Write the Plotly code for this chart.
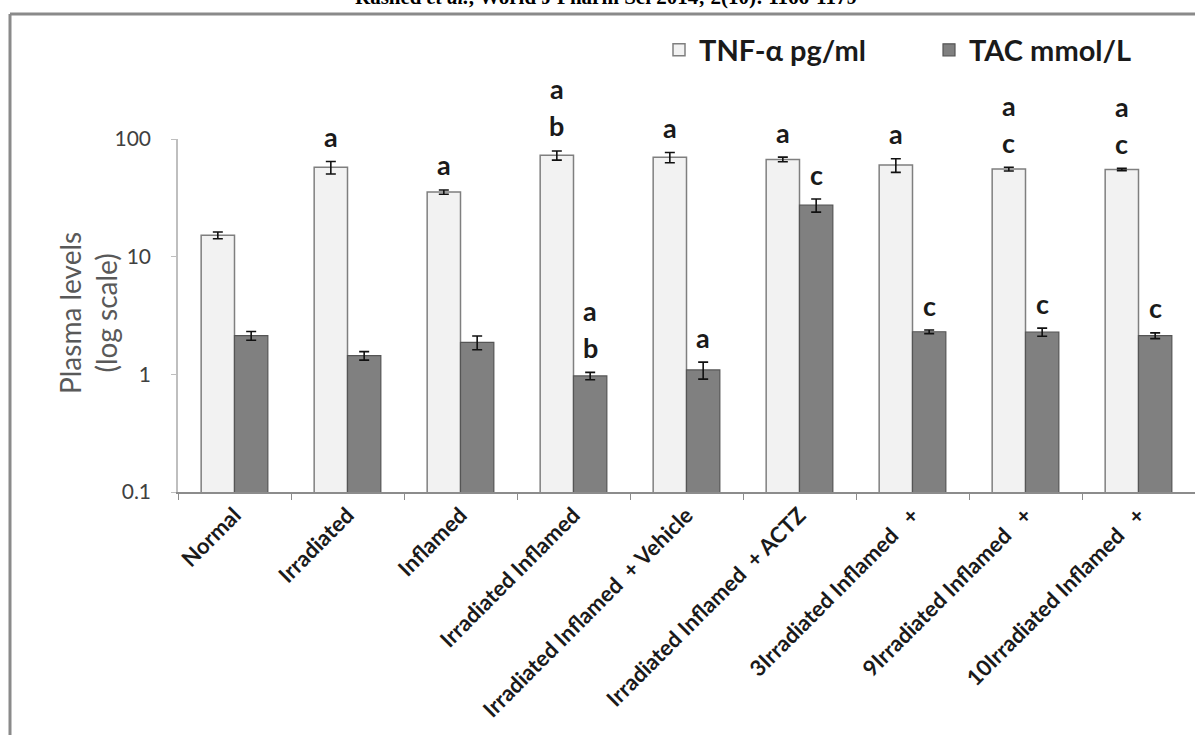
import math
import plotly.graph_objects as go

categories = [
    "Normal", "Irradiated", "Inflamed", "Irradiated Inflamed",
    "Irradiated Inflamed \u00a0+ Vehicle", "Irradiated Inflamed \u00a0+ ACTZ",
    "3Irradiated Inflamed \u00a0 +", "9Irradiated Inflamed \u00a0 +",
    "10Irradiated Inflamed \u00a0 +",
]
tnf = [15.2, 57.4, 35.4, 72.6, 69.8, 67.1, 60.0, 55.5, 55.1]
tnf_err = [1.0, 7.0, 1.5, 6.5, 7.0, 3.0, 8.0, 2.0, 1.2]
tac = [2.13, 1.44, 1.87, 0.97, 1.09, 27.4, 2.30, 2.29, 2.13]
tac_err = [0.18, 0.12, 0.25, 0.07, 0.18, 3.5, 0.08, 0.18, 0.12]
tnf_sig = ["", "a", "a", "ab", "a", "a", "a", "ac", "ac"]
tac_sig = ["", "", "", "ab", "a", "c", "c", "c", "c"]

BARGAP = 0.41
FONT = "Lato"
W, H = 1195, 735
L, T, B = 178, 139, 492
H_PLOT = B - T


def py(p):
    return (B - p) / H_PLOT


def px(p):
    return (p - L) / (W - L)


fig = go.Figure()
fig.add_trace(go.Bar(
    name="TNF-α pg/ml", x=categories, y=tnf, legend="legend",
    error_y=dict(type="data", array=tnf_err, color="#111111", thickness=1.6, width=5),
    marker=dict(color="#f2f2f2", line=dict(color="#7f7f7f", width=1.5)),
))
fig.add_trace(go.Bar(
    name="TAC mmol/L", x=categories, y=tac, legend="legend2",
    error_y=dict(type="data", array=tac_err, color="#111111", thickness=1.6, width=5),
    marker=dict(color="#808080", line=dict(color="#555555", width=1.2)),
))

# significance letters
w = (1 - BARGAP) / 2
annotations = []
for vals, errs, sigs, off in [(tnf, tnf_err, tnf_sig, -w / 2), (tac, tac_err, tac_sig, w / 2)]:
    for i, (v, e, s) in enumerate(zip(vals, errs, sigs)):
        for k, ch in enumerate(reversed(s)):
            annotations.append(dict(
                x=i + off, y=math.log10(v + e), xref="x", yref="y",
                text=ch, showarrow=False, yanchor="middle",
                yshift=25 + 37 * k,
                font=dict(family=FONT, size=27, color="#1a1a1a", weight="bold"),
            ))

# header (cut off at the top like the reference)
annotations.append(dict(
    x=px(606), y=py(11), xref="paper", yref="paper", xanchor="center", yanchor="bottom",
    text="Rashed <i>et al.</i>, World J Pharm Sci 2014; 2(10): 1166-1179",
    showarrow=False, font=dict(family="Liberation Serif", size=21, color="#000000", weight="bold"),
))
# y-axis title
annotations.append(dict(
    x=px(88), y=py(313), xref="paper", yref="paper", xanchor="center", yanchor="middle",
    text="Plasma levels<br>(log scale)", textangle=-90, showarrow=False,
    font=dict(family=FONT, size=28, color="#595959"),
))

legend_font = dict(family=FONT, size=29, color="#1a1a1a", weight="bold")
fig.update_layout(
    width=W, height=H,
    margin=dict(l=L, r=0, t=T, b=H - B, autoexpand=False),
    paper_bgcolor="white", plot_bgcolor="white",
    barmode="group", bargap=BARGAP, bargroupgap=0,
    showlegend=True,
    legend=dict(orientation="h", x=px(659), y=py(50), xanchor="left", yanchor="middle",
                font=legend_font, bgcolor="rgba(0,0,0,0)"),
    legend2=dict(orientation="h", x=px(929), y=py(50), xanchor="left", yanchor="middle",
                 font=legend_font, bgcolor="rgba(0,0,0,0)"),
    annotations=annotations,
    shapes=[
        dict(type="line", xref="paper", yref="paper", x0=px(10), x1=px(1200), y0=py(14), y1=py(14),
             line=dict(color="#8a8a8a", width=3)),
        dict(type="line", xref="paper", yref="paper", x0=px(10), x1=px(10), y0=py(14), y1=py(740),
             line=dict(color="#8a8a8a", width=3)),
    ],
)
fig.update_xaxes(
    type="category", tickson="boundaries", ticks="outside", ticklen=6, tickcolor="#8c8c8c",
    showline=True, linecolor="#8c8c8c", linewidth=1.5, tickangle=-45, automargin=False,
    tickfont=dict(family=FONT, size=22, color="#1a1a1a", weight="bold"),
    showgrid=False,
)
fig.update_yaxes(
    type="log", range=[-1, 2], tickvals=[0.1, 1, 10, 100], ticktext=["0.1", "1", "10", "100"],
    ticks="outside", ticklen=5, tickcolor="#bfbfbf", showline=True, linecolor="#bfbfbf", linewidth=1.5,
    tickfont=dict(family=FONT, size=21, color="#404040"), automargin=False, ticklabelstandoff=16,
    showgrid=False, zeroline=False,
)

fig.write_html(
    "out.html",
    config={"displayModeBar": False},
    post_script="document.body.style.margin='0';document.body.style.overflow='hidden';",
)
